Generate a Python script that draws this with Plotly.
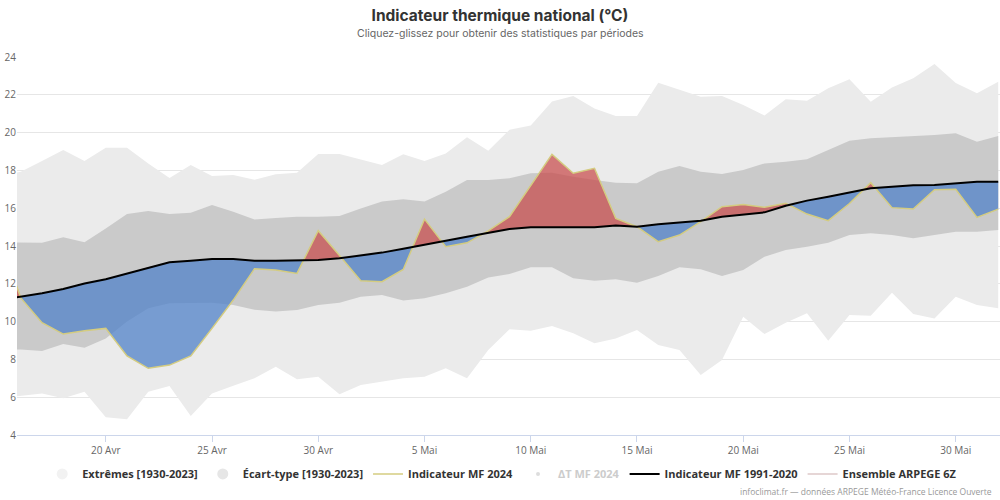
import plotly.graph_objects as go
import pandas as pd

# ---------------- data (daily, 15 Avr -> 1 Juin 2024) ----------------
start_date = "2024-04-15"

ext_max = [17.70, 17.93, 18.50, 19.08, 18.50, 19.20, 19.20, 18.37, 17.60, 18.29,
           17.70, 17.76, 17.50, 17.80, 17.88, 18.87, 18.87, 18.57, 18.29, 18.86,
           18.50, 18.90, 19.75, 19.04, 20.15, 20.38, 21.65, 21.94, 21.28, 20.88,
           20.88, 22.64, 22.25, 21.90, 21.94, 21.46, 20.90, 21.76, 21.69, 22.34,
           22.82, 21.63, 22.39, 22.87, 23.63, 22.62, 22.08, 22.69]

ext_min = [5.95, 6.06, 6.20, 5.94, 6.29, 4.94, 4.83, 6.29, 6.59, 5.00,
           6.20, 6.60, 7.00, 7.61, 6.95, 7.08, 6.15, 6.65, 6.82, 7.00,
           7.08, 7.53, 7.00, 8.50, 9.59, 9.52, 9.77, 9.38, 8.85, 9.11,
           9.56, 8.76, 8.50, 7.17, 7.97, 10.26, 9.34, 9.94, 10.44, 8.99,
           10.35, 10.31, 11.53, 10.40, 10.17, 11.32, 10.88, 10.70]

std_max = [14.20, 14.17, 14.17, 14.46, 14.20, 14.93, 15.69, 15.85, 15.69, 15.76,
           16.17, 15.81, 15.40, 15.48, 15.55, 15.55, 15.59, 15.99, 16.35, 16.47,
           16.35, 16.87, 17.49, 17.49, 17.58, 17.85, 17.88, 17.67, 17.49, 17.35,
           17.32, 17.93, 18.23, 17.93, 17.81, 18.02, 18.37, 18.46, 18.59, 19.08,
           19.57, 19.70, 19.75, 19.82, 19.87, 19.96, 19.52, 19.82]

std_min = [8.50, 8.53, 8.44, 8.81, 8.62, 9.11, 10.00, 10.70, 10.97, 11.00,
           11.00, 10.88, 10.63, 10.53, 10.61, 10.88, 11.00, 11.32, 11.41, 11.11,
           11.23, 11.50, 11.85, 12.33, 12.52, 12.87, 12.87, 12.29, 12.16, 12.24,
           12.06, 12.41, 12.87, 12.77, 12.41, 12.73, 13.43, 13.79, 13.96, 14.17,
           14.58, 14.67, 14.58, 14.41, 14.58, 14.76, 14.76, 14.85]

normal_1991_2020 = [11.15, 11.32, 11.50, 11.72, 12.02, 12.24, 12.55, 12.87, 13.14, 13.22,
                    13.31, 13.31, 13.22, 13.22, 13.22, 13.26, 13.35, 13.49, 13.65, 13.86,
                    14.05, 14.28, 14.49, 14.71, 14.90, 14.99, 14.99, 14.99, 14.99, 15.08,
                    15.02, 15.15, 15.23, 15.34, 15.55, 15.68, 15.78, 16.13, 16.40, 16.61,
                    16.84, 17.05, 17.14, 17.21, 17.23, 17.32, 17.40, 17.40]

mf_2024 = [14.50, 11.25, 9.94, 9.34, 9.52, 9.64, 8.18, 7.53, 7.70, 8.18,
           9.64, 11.14, 12.80, 12.73, 12.55, 14.81, 13.50, 12.16, 12.11, 12.76,
           15.42, 13.96, 14.17, 14.80, 15.55, 17.21, 18.85, 17.85, 18.11, 15.46,
           15.02, 14.23, 14.58, 15.29, 16.08, 16.20, 16.05, 16.26, 15.69, 15.34,
           16.25, 17.35, 16.03, 15.96, 16.98, 17.00, 15.51, 15.95]

tick_dates = ["2024-04-20", "2024-04-25", "2024-04-30", "2024-05-05", "2024-05-10",
              "2024-05-15", "2024-05-20", "2024-05-25", "2024-05-30"]
tick_labels = ["20 Avr", "25 Avr", "30 Avr", "5 Mai", "10 Mai",
               "15 Mai", "20 Mai", "25 Mai", "30 Mai"]
y_ticks = [4, 6, 8, 10, 12, 14, 16, 18, 20, 22, 24]

x_range = ["2024-04-15 19:45", "2024-06-01 02:00"]

dates = pd.date_range(start_date, periods=len(normal_1991_2020), freq="D")


def split_fill(xd, a, b):
    """Insert crossing points between series a and reference b."""
    xs, base, up, lo = [], [], [], []
    for i in range(len(a)):
        if i > 0:
            d0 = a[i - 1] - b[i - 1]
            d1 = a[i] - b[i]
            if d0 * d1 < 0:
                t = d0 / (d0 - d1)
                xc = xd[i - 1] + (xd[i] - xd[i - 1]) * t
                yc = b[i - 1] + (b[i] - b[i - 1]) * t
                xs.append(xc); base.append(yc); up.append(yc); lo.append(yc)
        xs.append(xd[i]); base.append(b[i])
        up.append(max(a[i], b[i])); lo.append(min(a[i], b[i]))
    return xs, base, up, lo


fx, fbase, fup, flo = split_fill(list(dates), mf_2024, normal_1991_2020)

fig = go.Figure()
nolegend = dict(showlegend=False, hoverinfo="skip", mode="lines")

# Extremes band
fig.add_trace(go.Scatter(x=dates, y=ext_min, line=dict(width=0, color="#ebebeb"), **nolegend))
fig.add_trace(go.Scatter(x=dates, y=ext_max, fill="tonexty", fillcolor="#ebebeb",
                         line=dict(width=0, color="#ebebeb"), **nolegend))
# Std band
fig.add_trace(go.Scatter(x=dates, y=std_min, line=dict(width=0, color="#cacaca"), **nolegend))
fig.add_trace(go.Scatter(x=dates, y=std_max, fill="tonexty", fillcolor="#cacaca",
                         line=dict(width=0, color="#cacaca"), **nolegend))
# Positive anomaly (red)
fig.add_trace(go.Scatter(x=fx, y=fbase, line=dict(width=0), **nolegend))
fig.add_trace(go.Scatter(x=fx, y=fup, fill="tonexty", fillcolor="rgba(200,75,75,0.72)",
                         line=dict(width=0), **nolegend))
# Negative anomaly (blue)
fig.add_trace(go.Scatter(x=fx, y=fbase, line=dict(width=0), **nolegend))
fig.add_trace(go.Scatter(x=fx, y=flo, fill="tonexty", fillcolor="rgba(80,130,200,0.75)",
                         line=dict(width=0), **nolegend))

# Legend-only entries for bands
fig.add_trace(go.Scatter(x=[None], y=[None], mode="markers", name="Extrêmes [1930-2023]",
                         marker=dict(symbol="circle", size=11, color="#f2f2f2"), legendrank=1))
fig.add_trace(go.Scatter(x=[None], y=[None], mode="markers", name="Écart-type [1930-2023]",
                         marker=dict(symbol="circle", size=11, color="#e6e6e6"), legendrank=2))
# MF 2024 line
fig.add_trace(go.Scatter(x=dates, y=mf_2024, mode="lines", name="Indicateur MF 2024",
                         line=dict(color="#d4cc80", width=1.5), legendrank=3))
fig.add_trace(go.Scatter(x=[None], y=[None], mode="markers",
                         name="<span style='color:#cccccc'>ΔT MF 2024</span>",
                         marker=dict(symbol="circle", size=4, color="#dddddd"), legendrank=4))
# Normal line
fig.add_trace(go.Scatter(x=dates, y=normal_1991_2020, mode="lines", name="Indicateur MF 1991-2020",
                         line=dict(color="#000000", width=2), legendrank=5))
fig.add_trace(go.Scatter(x=[None], y=[None], mode="lines", name="Ensemble ARPEGE 6Z",
                         line=dict(color="#e6d6d6", width=2), legendrank=6))

fig.update_layout(
    width=1000, height=500,
    margin=dict(l=17, r=0, t=57, b=65, autoexpand=False),
    paper_bgcolor="#ffffff", plot_bgcolor="#ffffff",
    font=dict(family="Open Sans", size=10, color="#666666"),
    title=dict(text="Indicateur thermique national (°C)", x=0.5, xref="container",
               y=1 - 16 / 500, yref="container", xanchor="center", yanchor="middle",
               font=dict(family="Inter", size=15.5, color="#333333", weight="bold")),
    xaxis=dict(type="date", range=x_range, tickvals=tick_dates, ticktext=tick_labels,
               showgrid=False, showline=True, linecolor="#ccd6eb", linewidth=1,
               ticks="outside", ticklen=6, tickcolor="#ccd6eb",
               tickfont=dict(family="Open Sans", size=10, color="#666666"), zeroline=False,
               fixedrange=True),
    yaxis=dict(range=[4, 24], tickvals=y_ticks, showgrid=True, gridcolor="#e6e6e6",
               gridwidth=1, zeroline=False, showline=False, ticks="",
               tickfont=dict(family="Open Sans", size=10, color="#666666"),
               automargin=False),
    legend=dict(orientation="h", x=0.4936, xanchor="center", y=-0.103, yanchor="middle",
                traceorder="normal",
                font=dict(family="Open Sans", size=11, color="#333333", weight="bold"),
                bgcolor="rgba(0,0,0,0)", itemclick=False, itemdoubleclick=False),
    showlegend=True,
    annotations=[
        dict(text="Cliquez-glissez pour obtenir des statistiques par périodes",
             xref="paper", yref="paper", x=(500 - 17) / 983, y=(435 - 34) / 378,
             xanchor="center", yanchor="middle", showarrow=False,
             font=dict(family="Inter", size=10.5, color="#666666")),
        dict(text="infoclimat.fr — données ARPEGE Météo-France Licence Ouverte",
             xref="paper", yref="paper", x=(994 - 17) / 983, y=(435 - 492) / 378,
             xanchor="right", yanchor="middle", showarrow=False,
             font=dict(family="Open Sans", size=8.5, color="#999999")),
    ],
)

fig.write_html("out.html", config={"displayModeBar": False},
               post_script="document.body.style.margin='0';")
